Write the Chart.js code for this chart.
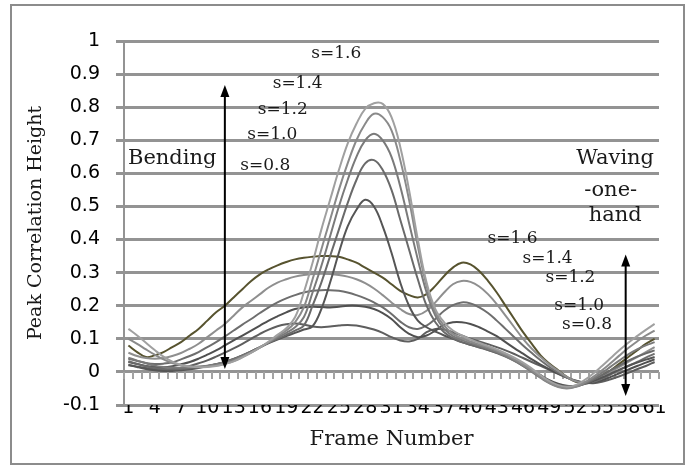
<!DOCTYPE html>
<html>
<head>
<meta charset="utf-8">
<script src="https://cdn.jsdelivr.net/npm/chart.js@4.4.1/dist/chart.umd.min.js"></script>
<style>
  body { margin: 0; background: #fff; }
</style>
</head>
<body>
<canvas id="frameChart" width="694" height="468"></canvas>
<script>
// --------------------------------
// Data: frame numbers and peak correlation heights
// --------------------------------
const frames = Array.from({length: 61}, (_, i) => String(i + 1));

// Bending curves (sharp peak near frame 28)
const bend16 = [0.13, 0.11, 0.088, 0.066, 0.046, 0.031, 0.021, 0.016, 0.014, 0.015,
  0.018, 0.024, 0.032, 0.044, 0.058, 0.074, 0.092, 0.112, 0.132, 0.165,
  0.24, 0.33, 0.43, 0.52, 0.61, 0.69, 0.75, 0.795, 0.812, 0.81,
  0.77, 0.68, 0.55, 0.40, 0.27, 0.19, 0.15, 0.125, 0.11, 0.098,
  0.088, 0.078, 0.068, 0.056, 0.043, 0.028, 0.01, -0.01, -0.028, -0.04,
  -0.045, -0.04, -0.025, -0.005, 0.018, 0.042, 0.066, 0.088, 0.108, 0.127, 0.145];
const bend14 = [0.10, 0.085, 0.068, 0.052, 0.038, 0.027, 0.02, 0.016, 0.015, 0.016,
  0.019, 0.025, 0.033, 0.045, 0.058, 0.073, 0.09, 0.108, 0.125, 0.15,
  0.195, 0.28, 0.37, 0.46, 0.55, 0.63, 0.70, 0.75, 0.78, 0.77,
  0.73, 0.64, 0.52, 0.38, 0.26, 0.18, 0.14, 0.115, 0.102, 0.092,
  0.083, 0.074, 0.064, 0.052, 0.038, 0.022, 0.004, -0.016, -0.034, -0.046,
  -0.05, -0.045, -0.032, -0.015, 0.005, 0.027, 0.05, 0.072, 0.092, 0.11, 0.125];
const bend12 = [0.043, 0.034, 0.026, 0.019, 0.015, 0.013, 0.013, 0.014, 0.016, 0.019,
  0.023, 0.029, 0.037, 0.048, 0.06, 0.074, 0.089, 0.104, 0.118, 0.135,
  0.165, 0.24, 0.32, 0.41, 0.5, 0.58, 0.65, 0.70, 0.72, 0.70,
  0.65, 0.56, 0.45, 0.34, 0.24, 0.17, 0.13, 0.108, 0.096, 0.087,
  0.079, 0.07, 0.06, 0.048, 0.034, 0.018, 0.0, -0.018, -0.034, -0.044,
  -0.048, -0.045, -0.035, -0.02, -0.003, 0.016, 0.035, 0.053, 0.068, 0.08, 0.09];
const bend10 = [0.032, 0.024, 0.017, 0.012, 0.009, 0.008, 0.009, 0.011, 0.014, 0.018,
  0.023, 0.03, 0.039, 0.05, 0.062, 0.075, 0.088, 0.1, 0.112, 0.125,
  0.14, 0.2, 0.27, 0.35, 0.43, 0.51, 0.58, 0.63, 0.64, 0.61,
  0.55, 0.46, 0.37, 0.28, 0.2, 0.15, 0.12, 0.102, 0.09, 0.082,
  0.074, 0.066, 0.057, 0.046, 0.033, 0.018, 0.002, -0.015, -0.03, -0.04,
  -0.045, -0.043, -0.036, -0.024, -0.01, 0.005, 0.02, 0.034, 0.046, 0.056, 0.065];
const bend08 = [0.022, 0.015, 0.009, 0.005, 0.003, 0.003, 0.005, 0.008, 0.012, 0.017,
  0.023, 0.03, 0.039, 0.05, 0.062, 0.075, 0.087, 0.098, 0.108, 0.118,
  0.128, 0.138, 0.19, 0.27, 0.36, 0.44, 0.49, 0.52, 0.5, 0.44,
  0.36, 0.27, 0.2, 0.155, 0.135, 0.122, 0.11, 0.1, 0.09, 0.082,
  0.075, 0.067, 0.058, 0.048, 0.036, 0.022, 0.007, -0.01, -0.025, -0.036,
  -0.042, -0.042, -0.037, -0.028, -0.017, -0.005, 0.007, 0.018, 0.028, 0.037, 0.045];

// Waving-one-hand curves (broad double hump)
const wave16 = [0.08, 0.06, 0.045, 0.05, 0.06, 0.075, 0.09, 0.11, 0.13, 0.155,
  0.18, 0.20, 0.225, 0.25, 0.275, 0.295, 0.31, 0.322, 0.332, 0.34,
  0.345, 0.348, 0.35, 0.35, 0.348, 0.34, 0.33, 0.315, 0.30, 0.285,
  0.265, 0.245, 0.232, 0.225, 0.235, 0.26, 0.29, 0.315, 0.33, 0.325,
  0.305, 0.275, 0.24, 0.2, 0.16, 0.12, 0.085, 0.05, 0.025, 0.005,
  -0.015, -0.03, -0.033, -0.025, -0.01, 0.005, 0.025, 0.045, 0.065, 0.085, 0.10];
const wave14 = [0.058, 0.048, 0.042, 0.04, 0.042, 0.048, 0.057, 0.07, 0.085, 0.105,
  0.125, 0.145, 0.17, 0.195, 0.215, 0.235, 0.255, 0.27, 0.28, 0.288,
  0.293, 0.296, 0.297, 0.296, 0.293, 0.288, 0.28, 0.268, 0.252, 0.232,
  0.21, 0.19, 0.175, 0.172, 0.185, 0.21, 0.24, 0.265, 0.275, 0.272,
  0.258, 0.235, 0.205, 0.17, 0.135, 0.1, 0.07, 0.045, 0.022, 0.003,
  -0.015, -0.028, -0.033, -0.028, -0.015, 0.0, 0.015, 0.03, 0.045, 0.06, 0.075];
const wave12 = [0.04, 0.033, 0.027, 0.024, 0.025, 0.029, 0.038, 0.048, 0.06, 0.075,
  0.09, 0.107, 0.125, 0.143, 0.16, 0.178, 0.195, 0.21, 0.222, 0.232,
  0.24, 0.245, 0.247, 0.247, 0.245, 0.24, 0.232, 0.222, 0.21, 0.195,
  0.175, 0.152, 0.135, 0.13, 0.14, 0.16, 0.185, 0.202, 0.21, 0.207,
  0.195, 0.178, 0.155, 0.13, 0.105, 0.08, 0.057, 0.035, 0.015, -0.002,
  -0.017, -0.028, -0.033, -0.03, -0.02, -0.008, 0.006, 0.018, 0.03, 0.043, 0.055];
const wave10 = [0.03, 0.024, 0.018, 0.015, 0.014, 0.017, 0.023, 0.03, 0.04, 0.052,
  0.065, 0.08, 0.095, 0.11, 0.125, 0.14, 0.155, 0.168, 0.18, 0.19,
  0.195, 0.197, 0.196, 0.195, 0.197, 0.2, 0.2, 0.197, 0.19, 0.178,
  0.16, 0.135, 0.115, 0.105, 0.11, 0.125, 0.142, 0.15, 0.15, 0.145,
  0.135, 0.122, 0.108, 0.09, 0.072, 0.055, 0.038, 0.022, 0.008, -0.005,
  -0.017, -0.027, -0.033, -0.032, -0.025, -0.015, -0.004, 0.007, 0.018, 0.028, 0.038];
const wave08 = [0.02, 0.016, 0.012, 0.008, 0.007, 0.008, 0.012, 0.018, 0.026, 0.035,
  0.046, 0.058, 0.071, 0.085, 0.1, 0.115, 0.128, 0.138, 0.144, 0.146,
  0.143, 0.137, 0.135, 0.137, 0.14, 0.142, 0.14, 0.135, 0.128, 0.118,
  0.105, 0.095, 0.092, 0.1, 0.12, 0.13, 0.128, 0.12, 0.11, 0.1,
  0.092, 0.084, 0.075, 0.065, 0.054, 0.042, 0.03, 0.018, 0.006, -0.006,
  -0.017, -0.026, -0.032, -0.034, -0.03, -0.022, -0.013, -0.003, 0.008, 0.018, 0.03];

// Text notes and arrows, placed in data coordinates (frame number, height)
const notes = [
  {text: 's=1.6', f: 24.7, v: 0.963, size: 17},
  {text: 's=1.4', f: 20.3, v: 0.872, size: 17},
  {text: 's=1.2', f: 18.6, v: 0.794, size: 17},
  {text: 's=1.0', f: 17.4, v: 0.718, size: 17},
  {text: 's=0.8', f: 16.6, v: 0.625, size: 17},
  {text: 'Bending', f: 6.0, v: 0.646, size: 21},
  {text: 'Waving', f: 56.5, v: 0.646, size: 21},
  {text: '-one-', f: 56.0, v: 0.549, size: 21},
  {text: 'hand', f: 56.5, v: 0.473, size: 21},
  {text: 's=1.6', f: 44.8, v: 0.404, size: 17},
  {text: 's=1.4', f: 48.8, v: 0.343, size: 17},
  {text: 's=1.2', f: 51.4, v: 0.286, size: 17},
  {text: 's=1.0', f: 52.4, v: 0.199, size: 17},
  {text: 's=0.8', f: 53.3, v: 0.144, size: 17}
];
const arrows = [
  {f: 12.0, from: 0.867, to: 0.009},
  {f: 57.7, from: 0.355, to: -0.073}
];

// --------------------------------
// Frame border, zero-axis tick marks, notes and arrows
// --------------------------------
const overlay = {
  id: 'overlay',
  beforeDraw(chart) {
    const ctx = chart.ctx;
    ctx.save();
    ctx.strokeStyle = '#8c8c8c';
    ctx.lineWidth = 2;
    ctx.strokeRect(11, 5, 673, 459);
    ctx.restore();
  },
  beforeDatasetsDraw(chart) {
    // small tick marks hanging under the zero line, one per category boundary
    const {ctx, scales: {x, y}} = chart;
    const y0 = y.getPixelForValue(0);
    ctx.save();
    ctx.strokeStyle = '#a3a3a3';
    ctx.lineWidth = 2;
    ctx.beginPath();
    for (let i = 0; i <= frames.length; i++) {
      const px = Math.round(x.getPixelForValue(i - 0.5));
      ctx.moveTo(px, y0);
      ctx.lineTo(px, y0 + 7);
    }
    ctx.stroke();
    ctx.restore();
  },
  afterDatasetsDraw(chart) {
    const {ctx, scales: {x, y}} = chart;
    ctx.save();
    ctx.fillStyle = '#1a1a1a';
    ctx.textAlign = 'center';
    ctx.textBaseline = 'middle';
    notes.forEach(n => {
      ctx.font = n.size + 'px "DejaVu Serif"';
      ctx.fillText(n.text, x.getPixelForValue(n.f - 1), y.getPixelForValue(n.v));
    });
    ctx.strokeStyle = '#000';
    ctx.fillStyle = '#000';
    ctx.lineWidth = 2;
    arrows.forEach(a => {
      const px = x.getPixelForValue(a.f - 1);
      const y1 = y.getPixelForValue(a.from);
      const y2 = y.getPixelForValue(a.to);
      ctx.beginPath();
      ctx.moveTo(px, y1 + 10);
      ctx.lineTo(px, y2 - 10);
      ctx.stroke();
      ctx.beginPath();
      ctx.moveTo(px, y1);
      ctx.lineTo(px - 4.5, y1 + 12);
      ctx.lineTo(px + 4.5, y1 + 12);
      ctx.closePath();
      ctx.fill();
      ctx.beginPath();
      ctx.moveTo(px, y2);
      ctx.lineTo(px - 4.5, y2 - 12);
      ctx.lineTo(px + 4.5, y2 - 12);
      ctx.closePath();
      ctx.fill();
    });
    ctx.restore();
  }
};

function line(data, color) {
  return {
    data: data,
    borderColor: color,
    borderWidth: 2,
    pointRadius: 0,
    fill: false,
    tension: 0.4
  };
}

const gridGray = '#939393';
const ctx = document.getElementById('frameChart').getContext('2d');
const frameChart = new Chart(ctx, {
  type: 'line',
  data: {
    labels: frames,
    datasets: [
      line(bend16, '#a0a0a0'),
      line(bend14, '#8a8a8a'),
      line(bend12, '#7a7a7a'),
      line(bend10, '#6a6a6a'),
      line(bend08, '#555555'),
      line(wave14, '#8f8f8f'),
      line(wave12, '#6e6e6e'),
      line(wave10, '#505050'),
      line(wave08, '#5e5e5e'),
      line(wave16, '#57532f')
    ]
  },
  options: {
    responsive: false,
    animation: false,
    events: [],
    layout: {
      padding: {top: 41, right: 35, bottom: 0, left: 0}
    },
    plugins: {
      legend: { display: false },
      tooltip: { enabled: false }
    },
    scales: {
      x: {
        type: 'category',
        offset: true,
        grid: { display: false },
        border: { display: false },
        ticks: {
          autoSkip: false,
          maxRotation: 0,
          minRotation: 0,
          padding: -16,
          color: '#000',
          font: { family: 'DejaVu Sans', size: 19 },
          callback: (v, i) => i % 3 === 0 ? frames[i] : ''
        },
        title: {
          display: true,
          text: 'Frame Number',
          color: '#1a1a1a',
          font: { family: 'DejaVu Serif', size: 21 },
          padding: { top: 0, bottom: 16 }
        },
        afterFit(scale) { scale.height = 63; }
      },
      y: {
        min: -0.1,
        max: 1,
        ticks: {
          stepSize: 0.1,
          padding: 16,
          color: '#000',
          font: { family: 'DejaVu Sans', size: 19 },
          callback: v => String(Math.round(v * 10) / 10)
        },
        grid: { color: gridGray, lineWidth: 3, tickLength: 8, drawTicks: true },
        border: { display: true, color: gridGray, width: 2 },
        title: {
          display: true,
          text: 'Peak Correlation Height',
          color: '#1a1a1a',
          font: { family: 'DejaVu Serif', size: 19 },
          padding: { top: 25, bottom: 0 }
        },
        afterFit(scale) { scale.width = 124; }
      }
    }
  },
  plugins: [overlay]
});
</script>
</body>
</html>
